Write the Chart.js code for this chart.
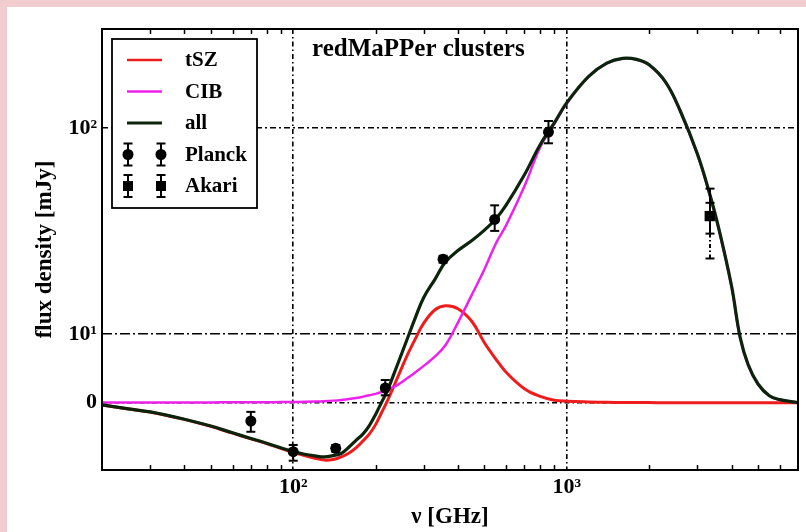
<!DOCTYPE html>
<html>
<head>
<meta charset="utf-8">
<script src="https://cdn.jsdelivr.net/npm/chart.js@4.4.1/dist/chart.umd.min.js"></script>
<style>
  html, body { margin: 0; padding: 0; background: #ffffff; }
  #wrap { width: 806px; height: 532px; position: relative; }
  canvas { display: block; }
</style>
</head>
<body>
<div id="wrap"><canvas id="c" width="806" height="532"></canvas></div>
<script>
// ---------------- data ----------------
const FREQ = [20,25,30,40,50,60,70,80,90,100,110,120,130,140,150,160,170,180,190,200,210,220,240,260,280,300,330,360,400,450,500,550,600,700,800,900,1000,1200,1400,1600,1800,2000,2300,2600,3000,3300,3600,4000,4300,4600,5000,5500,6000,7000];
const ALL = [-0.3,-0.85,-1.25,-2.25,-3.2,-4.15,-4.95,-5.65,-6.3,-6.9,-7.3,-7.55,-7.7,-7.5,-7.15,-6.2,-5.2,-4.3,-3.1,-1.6,0,1.5,5.2,9.0,13,16.9,21.1,25.6,29,32.3,36,40.4,46.5,63,85,105,128,165,188,197,195,185,156,118,77.6,54,36.3,19.5,9.5,5.3,2.55,0.95,0.42,0];
const TSZ = [-0.3,-0.86,-1.27,-2.28,-3.25,-4.2,-5.0,-5.7,-6.4,-7.0,-7.5,-7.9,-8.2,-8.1,-7.7,-7.1,-6.3,-5.3,-4.3,-3.0,-1.4,0.1,3.35,6.5,9.3,11.9,14.4,15.2,14.6,12.2,8.6,6.1,4.2,1.9,0.85,0.34,0.2,0.1,0.05,0.03,0.02,0.01,0,0,0,0,0,0,0,0,0,0,0,0];
const CIB = [0.01,0.01,0.02,0.03,0.04,0.05,0.06,0.07,0.08,0.1,0.12,0.15,0.2,0.28,0.38,0.5,0.65,0.82,1.0,1.2,1.45,1.75,2.4,3.3,4.2,5.1,6.5,8.2,12.0,17.5,23.6,31.2,37.8,56.2,83,104,127,165,187.5,196.5,194.5,184.5,155.5,117.5,77.2,53.7,36,19.3,9.4,5.2,2.5,0.9,0.4,0];

const PLANCK_FREQ = [70,100,143,217,353,545,857];
const PLANCK_FLUX = [-2.5,-6.9,-6.4,2.0,26.4,40.2,96];
const PLANCK_LO   = [-4.0,-8.3,-6.9,1.0,25.4,35.7,86];
const PLANCK_HI   = [-1.25,-5.9,-5.9,3.1,27.4,46.4,107];

const AKARI_FREQ   = [3331];
const AKARI_FLUX   = [41.6];
const AKARI_LO_IN  = [34.7];
const AKARI_HI_IN  = [47.6];
const AKARI_LO_OUT = [26.6];
const AKARI_HI_OUT = [54.9];

const X_TICKS = [100, 1000];
const X_TICK_LABELS = ['10²', '10³'];
const X_MINOR = [30,40,50,60,70,80,90,200,300,400,500,600,700,800,900,2000,3000,4000,5000,6000];
const Y_TICKS = [0, 10, 100];
const Y_TICK_LABELS = ['0', '10¹', '10²'];

const LEGEND_LABELS = ['tSZ', 'CIB', 'all', 'Planck', 'Akari'];
const TITLE = 'redMaPPer clusters';
const X_TITLE = 'ν [GHz]';
const Y_TITLE = 'flux density [mJy]';

// ---------------- styles ----------------
const SERIF = "'Liberation Serif', 'Times New Roman', 'DejaVu Serif', serif";
const C_ALL = '#0c240c';
const C_TSZ = 'rgb(238,28,28)';
const C_CIB = 'rgb(236,34,236)';

// ---------------- asinh (symmetric-log-like) y scale ----------------
const ASINH_A = 14;
const tf = v => Math.asinh(v / ASINH_A);
const tfInv = t => ASINH_A * Math.sinh(t);
class AsinhScale extends Chart.LinearScale {
  buildTicks() {
    this.start = this.min; this.end = this.max;
    return Y_TICKS.filter(v => v >= this.min && v <= this.max).map(v => ({ value: v }));
  }
  getPixelForValue(value) {
    if (value === null || value === undefined || isNaN(value)) return NaN;
    const t0 = tf(this.min), t1 = tf(this.max);
    return this.getPixelForDecimal((tf(value) - t0) / (t1 - t0));
  }
  getValueForPixel(pixel) {
    const t0 = tf(this.min), t1 = tf(this.max);
    return tfInv(t0 + this.getDecimalForPixel(pixel) * (t1 - t0));
  }
}
AsinhScale.id = 'asinh';
AsinhScale.defaults = {};
Chart.register(AsinhScale);

// ---------------- plugins ----------------
const background = {
  id: 'background',
  beforeDraw(chart) {
    const ctx = chart.ctx;
    ctx.save();
    ctx.fillStyle = '#f1cdd0';
    ctx.fillRect(0, 0, chart.width, chart.height);
    ctx.fillStyle = '#ffffff';
    ctx.fillRect(7, 7, chart.width - 7, chart.height - 7);
    ctx.restore();
  }
};

function vLine(ctx, x, y1, y2) {
  ctx.beginPath(); ctx.moveTo(x, y1); ctx.lineTo(x, y2); ctx.stroke();
}
function capLine(ctx, x, y, cap) {
  ctx.beginPath(); ctx.moveTo(x - cap, y); ctx.lineTo(x + cap, y); ctx.stroke();
}
function errBar(ctx, x, y1, y2, cap) {
  vLine(ctx, x, y1, y2); capLine(ctx, x, y1, cap); capLine(ctx, x, y2, cap);
}

const errorBars = {
  id: 'errorBars',
  afterDatasetsDraw(chart) {
    const ctx = chart.ctx, xs = chart.scales.x, ys = chart.scales.y;
    const a = chart.chartArea;
    ctx.save();
    ctx.beginPath(); ctx.rect(a.left, a.top, a.right - a.left, a.bottom - a.top); ctx.clip();
    ctx.strokeStyle = '#000'; ctx.lineWidth = 2;
    PLANCK_FREQ.forEach((f, i) => {
      errBar(ctx, xs.getPixelForValue(f), ys.getPixelForValue(PLANCK_LO[i]), ys.getPixelForValue(PLANCK_HI[i]), 4.5);
    });
    AKARI_FREQ.forEach((f, i) => {
      const x = Math.round(xs.getPixelForValue(f));
      const yHo = ys.getPixelForValue(AKARI_HI_OUT[i]), yHi = ys.getPixelForValue(AKARI_HI_IN[i]);
      const yLi = ys.getPixelForValue(AKARI_LO_IN[i]), yLo = ys.getPixelForValue(AKARI_LO_OUT[i]);
      vLine(ctx, x, yHo, yLi);
      capLine(ctx, x, yHo, 4.5); capLine(ctx, x, yHi, 4.5); capLine(ctx, x, yLi, 4.5);
      ctx.setLineDash([4, 2.5, 1.5, 2.5]);
      vLine(ctx, x, yLi, yLo);
      ctx.setLineDash([]);
      capLine(ctx, x, yLo, 4.5);
    });
    ctx.restore();
  }
};

const frameAndDecor = {
  id: 'frameAndDecor',
  afterDraw(chart) {
    const ctx = chart.ctx, a = chart.chartArea, xs = chart.scales.x;
    ctx.save();
    // minor ticks (inward, top and bottom)
    ctx.strokeStyle = '#000'; ctx.lineWidth = 1.5;
    ctx.beginPath();
    X_MINOR.forEach(v => {
      const x = Math.round(xs.getPixelForValue(v)) + 0.5;
      ctx.moveTo(x, a.bottom); ctx.lineTo(x, a.bottom - 5);
      ctx.moveTo(x, a.top); ctx.lineTo(x, a.top + 5);
    });
    ctx.stroke();
    // frame
    ctx.lineWidth = 2;
    ctx.strokeRect(a.left, a.top, a.right - a.left, a.bottom - a.top);

    // title inside plot
    ctx.fillStyle = '#000';
    ctx.font = 'bold 25px ' + SERIF;
    ctx.textAlign = 'left'; ctx.textBaseline = 'middle';
    ctx.fillText(TITLE, 312, 50);

    // legend box
    const bx = a.left + 10, by = a.top + 10, bw = 145, bh = 169;
    ctx.fillStyle = '#fff';
    ctx.fillRect(bx, by, bw, bh);
    ctx.strokeStyle = '#000'; ctx.lineWidth = 1.8;
    ctx.strokeRect(bx, by, bw, bh);
    const rowY = i => by + 21 + 31.5 * i;
    const lineColors = [C_TSZ, C_CIB, C_ALL];
    const lineWidths = [2.5, 2.5, 3.2];
    for (let i = 0; i < 3; i++) {
      ctx.strokeStyle = lineColors[i]; ctx.lineWidth = lineWidths[i];
      ctx.beginPath(); ctx.moveTo(bx + 15, rowY(i)); ctx.lineTo(bx + 50, rowY(i)); ctx.stroke();
    }
    ctx.strokeStyle = '#000'; ctx.fillStyle = '#000'; ctx.lineWidth = 2;
    [bx + 16, bx + 49].forEach(x => {
      const y = rowY(3);
      errBar(ctx, x, y - 11, y + 11, 4.5);
      ctx.beginPath(); ctx.arc(x, y, 5.5, 0, Math.PI * 2); ctx.fill();
      const y2 = rowY(4);
      errBar(ctx, x, y2 - 11, y2 + 11, 4.5);
      ctx.fillRect(x - 5, y2 - 5, 10, 10);
    });
    ctx.font = 'bold 21px ' + SERIF;
    ctx.textAlign = 'left'; ctx.textBaseline = 'middle';
    LEGEND_LABELS.forEach((t, i) => ctx.fillText(t, bx + 73, rowY(i) + 1));
    ctx.restore();
  }
};

// ---------------- chart ----------------
const pts = arr => FREQ.map((f, i) => ({ x: f, y: arr[i] }));
const lineDs = (label, arr, color, width, order) => ({
  type: 'line', label, data: pts(arr), borderColor: color, borderWidth: width,
  pointRadius: 0, fill: false, tension: 0.4, order
});

new Chart(document.getElementById('c'), {
  type: 'line',
  data: {
    datasets: [
      lineDs(LEGEND_LABELS[0], TSZ, C_TSZ, 3, 4),
      lineDs(LEGEND_LABELS[1], CIB, C_CIB, 2.5, 3),
      lineDs(LEGEND_LABELS[2], ALL, C_ALL, 3.2, 2),
      {
        type: 'scatter', label: LEGEND_LABELS[3],
        data: PLANCK_FREQ.map((f, i) => ({ x: f, y: PLANCK_FLUX[i] })),
        pointStyle: 'circle', pointRadius: 5.5, backgroundColor: '#000', borderColor: '#000', borderWidth: 0, order: 1
      },
      {
        type: 'scatter', label: LEGEND_LABELS[4],
        data: AKARI_FREQ.map((f, i) => ({ x: f, y: AKARI_FLUX[i] })),
        pointStyle: 'rect', pointRadius: 7.3, backgroundColor: '#000', borderColor: '#000', borderWidth: 0, order: 0
      }
    ]
  },
  options: {
    responsive: false,
    animation: false,
    events: [],
    layout: { padding: { left: 0, right: 8, top: 29, bottom: 0 } },
    plugins: { legend: { display: false }, tooltip: { enabled: false }, title: { display: false } },
    scales: {
      x: {
        type: 'logarithmic', min: 20, max: 7000,
        afterBuildTicks: s => { s.ticks = X_TICKS.map(v => ({ value: v })); },
        afterFit: s => { s.height = 62; },
        grid: { color: '#000', lineWidth: 1.6, drawTicks: false },
        border: { display: false, dash: [5, 3, 1.5, 3] },
        ticks: {
          autoSkip: false, maxRotation: 0, padding: 4, color: '#000',
          font: { family: SERIF, size: 22, weight: 'bold' },
          callback: v => X_TICK_LABELS[X_TICKS.indexOf(v)]
        },
        title: {
          display: true, text: X_TITLE, color: '#000',
          font: { family: SERIF, size: 23, weight: 'bold' },
          padding: { top: 0, bottom: 1 }
        }
      },
      y: {
        type: 'asinh', min: -9.8, max: 262,
        afterFit: s => { s.width = 102; },
        grid: { color: '#000', lineWidth: 1.6, drawTicks: false },
        border: {
          display: false,
          dash: ctx => (ctx.tick && ctx.tick.value === 10) ? [10, 3, 2, 3] : (ctx.tick && ctx.tick.value === 0 ? [5, 3, 1.5, 3] : [6, 3, 2, 3])
        },
        ticks: {
          autoSkip: false, padding: 5, color: '#000',
          font: { family: SERIF, size: 22, weight: 'bold' },
          callback: v => Y_TICK_LABELS[Y_TICKS.indexOf(v)]
        },
        title: {
          display: true, text: Y_TITLE, color: '#000',
          font: { family: SERIF, size: 23, weight: 'bold' },
          padding: { top: 31, bottom: 0 }
        }
      }
    }
  },
  plugins: [background, errorBars, frameAndDecor]
});
</script>
</body>
</html>
